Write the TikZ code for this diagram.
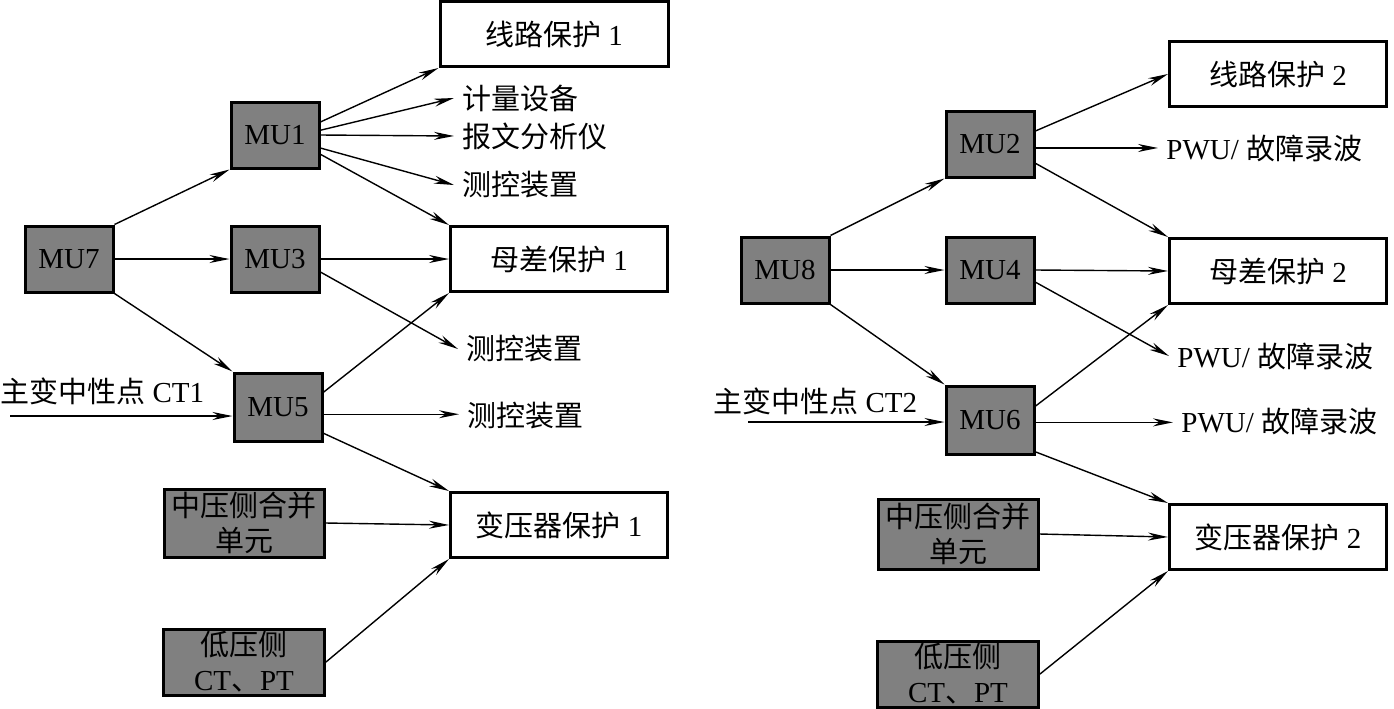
\documentclass[tikz,border=0pt]{standalone}
\usepackage{fontspec}
\setmainfont{Liberation Serif}
\newfontfamily\cjk{Noto Sans CJK SC}
\usetikzlibrary{arrows.meta}

\begin{document}
\begin{tikzpicture}[x = 0.5pt, y = -0.5pt,
	font = \fontsize{14.5}{17.5}\selectfont,
	mu/.style = {draw, line width = 1.5pt, fill = black!50, inner sep = 0pt,
		minimum width = 44pt, minimum height = 33pt, align = center},
	dev/.style = {draw, line width = 1.5pt, fill = white, inner sep = 0pt,
		minimum width = 108.5pt, minimum height = 32.5pt},
	lbl/.style = {anchor = west, inner sep = 4pt},
	arr/.style = {line width = 0.7pt, -{Stealth[length = 10pt, width = 4pt]}}]
	\useasboundingbox (0,0) rectangle (1394,708);

	\path
	(69,259) node[mu](MU7){MU7}
	(275,135) node[mu](MU1){MU1}
	(275,259) node[mu](MU3){MU3}
	(278,407) node[mu, minimum height = 34pt](MU5){MU5}
	(244,523) node[mu, minimum width = 80pt, minimum height = 34pt](ZY1){{\cjk 中压侧合并}\\{\cjk 单元}}
	(244,662) node[mu, minimum width = 80.5pt](DY1){{\cjk 低压侧}\\CT{\cjk 、}PT}
	(554,34) node[dev, minimum width = 114pt](XL1){{\cjk 线路保护} 1}
	(559,259) node[dev](MC1){{\cjk 母差保护} 1}
	(559,525) node[dev](BY1){{\cjk 变压器保护} 1}
	(454,98) node[lbl](JL){\cjk 计量设备}
	(454,136) node[lbl](BW){\cjk 报文分析仪}
	(454,185) node[lbl](CK1){\cjk 测控装置}
	(458,349) node[lbl](CK2){\cjk 测控装置}
	(459,416) node[lbl](CK3){\cjk 测控装置}
	(0,391) node[anchor = west, inner sep = 0pt](CT1){{\cjk 主变中性点} CT1}
	(10,416) coordinate(IN1)

	(785,270) node[mu](MU8){MU8}
	(990,144) node[mu](MU2){MU2}
	(990,270) node[mu](MU4){MU4}
	(990,420) node[mu, minimum height = 34pt](MU6){MU6}
	(958,534) node[mu, minimum width = 80pt, minimum height = 35pt](ZY2){{\cjk 中压侧合并}\\{\cjk 单元}}
	(958,674) node[mu, minimum width = 80.5pt](DY2){{\cjk 低压侧}\\CT{\cjk 、}PT}
	(1278,74) node[dev](XL2){{\cjk 线路保护} 2}
	(1278,271) node[dev](MC2){{\cjk 母差保护} 2}
	(1278,537) node[dev](BY2){{\cjk 变压器保护} 2}
	(1158,148) node[lbl](PWU1){PWU/ {\cjk 故障录波}}
	(1169,356) node[lbl](PWU2){PWU/ {\cjk 故障录波}}
	(1173,421) node[lbl](PWU3){PWU/ {\cjk 故障录波}}
	(713,401) node[anchor = west, inner sep = 0pt](CT2){{\cjk 主变中性点} CT2}
	(748,422) coordinate(IN2);

	\path[arr]
	(MU7.north east) edge (MU1.south west)
	(MU7.east) edge (MU3.west)
	(MU7.south east) edge (MU5.north west)
	(MU1.16) edge (XL1.south west)
	(MU1.6) edge (JL.west)
	(MU1.east) edge (BW.west)
	(MU1.344) edge (CK1.west)
	(MU1.337) edge (MC1.north west)
	(MU3.east) edge (MC1.west)
	(MU3.344) edge (CK2.west)
	(IN1) edge (IN1 -| MU5.west)
	(MU5.18) edge (MC1.south west)
	(MU5.351) edge (MU5.351 -| CK3.west)
	(MU5.330) edge (BY1.north west)
	(ZY1.east) edge (BY1.west)
	(DY1.east) edge (BY1.south west)

	(MU8.north east) edge (MU2.south west)
	(MU8.east) edge (MU4.west)
	(MU8.south east) edge (MU6.north west)
	(MU2.16) edge (XL2.west)
	(MU2.355) edge (MU2.355 -| PWU1.west)
	(MU2.337) edge (MC2.north west)
	(MU4.east) edge (MC2.west)
	(MU4.345) edge (PWU2.west)
	(IN2) edge (IN2 -| MU6.west)
	(MU6.17) edge (MC2.south west)
	(MU6.357) edge (MU6.357 -| PWU3.west)
	(MU6.325) edge (BY2.north west)
	(ZY2.east) edge (BY2.west)
	(DY2.east) edge (BY2.south west);
\end{tikzpicture}
\end{document}
